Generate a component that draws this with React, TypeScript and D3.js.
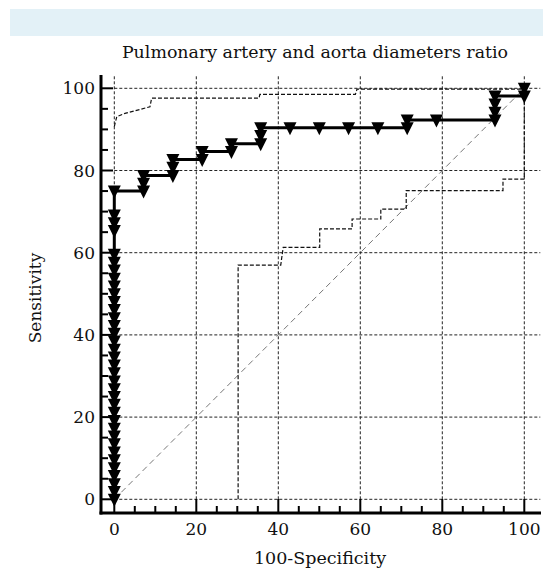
import React from 'react';
import * as d3 from 'd3';

// ROC curve (step path), in 100-specificity / sensitivity units
const rocX = [0, 0, 7.14, 7.14, 14.29, 14.29, 21.43, 21.43, 28.57, 28.57, 35.71, 35.71, 71.43, 71.43, 92.86, 92.86, 100, 100];
const rocY = [0, 75.0, 75.0, 78.8, 78.8, 82.7, 82.7, 84.6, 84.6, 86.5, 86.5, 90.4, 90.4, 92.3, 92.3, 98.1, 98.1, 100];

// markers (one per criterion value)
const markX = [
  0, 0, 0, 0, 0, 0, 0, 0, 0, 0, 0, 0, 0, 0, 0, 0, 0, 0, 0, 0,
  0, 0, 0, 0, 0, 0, 0, 0, 0, 0, 0, 0, 0, 0, 0, 0,
  7.14, 7.14, 7.14, 14.29, 14.29, 14.29, 21.43, 21.43, 28.57, 28.57,
  35.71, 35.71, 35.71, 42.86, 50, 57.14, 64.29, 71.43, 71.43, 78.57,
  92.86, 92.86, 92.86, 92.86, 100, 100,
];
const markY = [
  0, 1.9, 3.8, 5.8, 7.7, 9.6, 11.5, 13.5, 15.4, 17.3, 19.2, 21.2, 23.1, 25.0, 26.9, 28.8, 30.8, 32.7, 34.6, 36.5,
  38.5, 40.4, 42.3, 44.2, 46.2, 48.1, 50.0, 51.9, 53.8, 55.8, 57.7, 59.6, 65.4, 67.3, 69.2, 75.0,
  75.0, 76.9, 78.8, 78.8, 80.8, 82.7, 82.7, 84.6, 84.6, 86.5,
  86.5, 88.5, 90.4, 90.4, 90.4, 90.4, 90.4, 90.4, 92.3, 92.3,
  92.3, 94.2, 96.2, 98.1, 98.1, 100,
];

// 95% confidence bounds
const upperX = [0, 0.6, 2.6, 8.7, 9.1, 35.3, 35.5, 58.8, 59.2, 100];
const upperY = [90.7, 93.1, 93.9, 95.5, 97.6, 97.6, 98.5, 98.5, 99.8, 99.8];
const lowerX = [30.2, 30.2, 40.6, 40.8, 41.2, 50.1, 50.1, 58.0, 58.0, 65.0, 65.0, 71.2, 71.2, 94.8, 94.8, 100, 100];
const lowerY = [0, 57.0, 57.0, 58.5, 61.3, 61.3, 65.8, 65.8, 68.2, 68.2, 70.6, 70.6, 75.1, 75.1, 77.9, 77.9, 100];

const majorTicks = [0, 20, 40, 60, 80, 100];
const minorTicks = [5, 10, 15, 25, 30, 35, 45, 50, 55, 65, 70, 75, 85, 90, 95];

const font = '"DejaVu Serif", serif';

export default function App() {
  const x = d3.scaleLinear().domain([0, 100]).range([114.3, 524.3]);
  const y = d3.scaleLinear().domain([0, 100]).range([499.3, 88.3]);
  const axisX = 101;
  const axisY = 513;

  const line = d3.line<[number, number]>().x(d => x(d[0])).y(d => y(d[1]));
  const roc = line(rocX.map((v, i) => [v, rocY[i]]));
  const upper = line(upperX.map((v, i) => [v, upperY[i]]));
  const lower = line(lowerX.map((v, i) => [v, lowerY[i]]));
  const diag = line([[0, 0], [100, 100]]);
  const tri = 'M-6.5,-5.5L6.5,-5.5L0,7.5Z';

  return (
    <svg width={543} height={570} style={{ position: 'absolute', left: 0, top: 0, background: '#fff' }}>
      <rect x={10} y={9} width={533} height={27} fill="#e3f1f7" />
      <text x={315} y={58} textAnchor="middle" fontFamily={font} fontSize={17.4} fill="#111">
        Pulmonary artery and aorta diameters ratio
      </text>

      {/* grid */}
      {majorTicks.map(t => (
        <g key={'g' + t}>
          <line x1={x(t)} x2={x(t)} y1={y(0)} y2={y(100) - 12} stroke="#222" strokeDasharray="3,2" strokeWidth={1} />
          <line x1={x(0)} x2={x(100) + 16} y1={y(t)} y2={y(t)} stroke="#222" strokeDasharray="3,2" strokeWidth={1} />
        </g>
      ))}

      {/* diagonal */}
      <path d={diag ?? ''} fill="none" stroke="#777" strokeWidth={1} strokeDasharray="6,4" />

      {/* confidence bounds */}
      <path d={upper ?? ''} fill="none" stroke="#111" strokeWidth={1.2} strokeDasharray="4,2" />
      <path d={lower ?? ''} fill="none" stroke="#111" strokeWidth={1.2} strokeDasharray="4,2" />

      {/* ROC curve */}
      <path d={roc ?? ''} fill="none" stroke="#000" strokeWidth={3} />
      {markX.map((v, i) => (
        <path key={'m' + i} d={tri} transform={`translate(${x(v)},${y(markY[i])})`} fill="#000" />
      ))}

      {/* axes */}
      <line x1={axisX} x2={axisX} y1={75} y2={axisY + 1.5} stroke="#000" strokeWidth={3} />
      <line x1={axisX - 1.5} x2={541} y1={axisY} y2={axisY} stroke="#000" strokeWidth={3} />
      {majorTicks.map(t => (
        <g key={'t' + t}>
          <line x1={axisX} x2={axisX + 12} y1={y(t)} y2={y(t)} stroke="#000" strokeWidth={2} />
          <line x1={x(t)} x2={x(t)} y1={axisY} y2={axisY - 14} stroke="#000" strokeWidth={2} />
          <text x={95} y={y(t) + 6} textAnchor="end" fontFamily={font} fontSize={17} fill="#111">{t}</text>
          <text x={x(t)} y={535} textAnchor="middle" fontFamily={font} fontSize={17} fill="#111">{t}</text>
        </g>
      ))}
      {minorTicks.map(t => (
        <g key={'n' + t}>
          <line x1={axisX} x2={axisX + 7} y1={y(t)} y2={y(t)} stroke="#000" strokeWidth={2} />
          <line x1={x(t)} x2={x(t)} y1={axisY} y2={axisY - 7} stroke="#000" strokeWidth={2} />
        </g>
      ))}

      <text x={320} y={564} textAnchor="middle" fontFamily={font} fontSize={17.5} fill="#111">100-Specificity</text>
      <text transform="translate(41,298) rotate(-90)" textAnchor="middle" fontFamily={font} fontSize={17} fill="#111">Sensitivity</text>
    </svg>
  );
}
